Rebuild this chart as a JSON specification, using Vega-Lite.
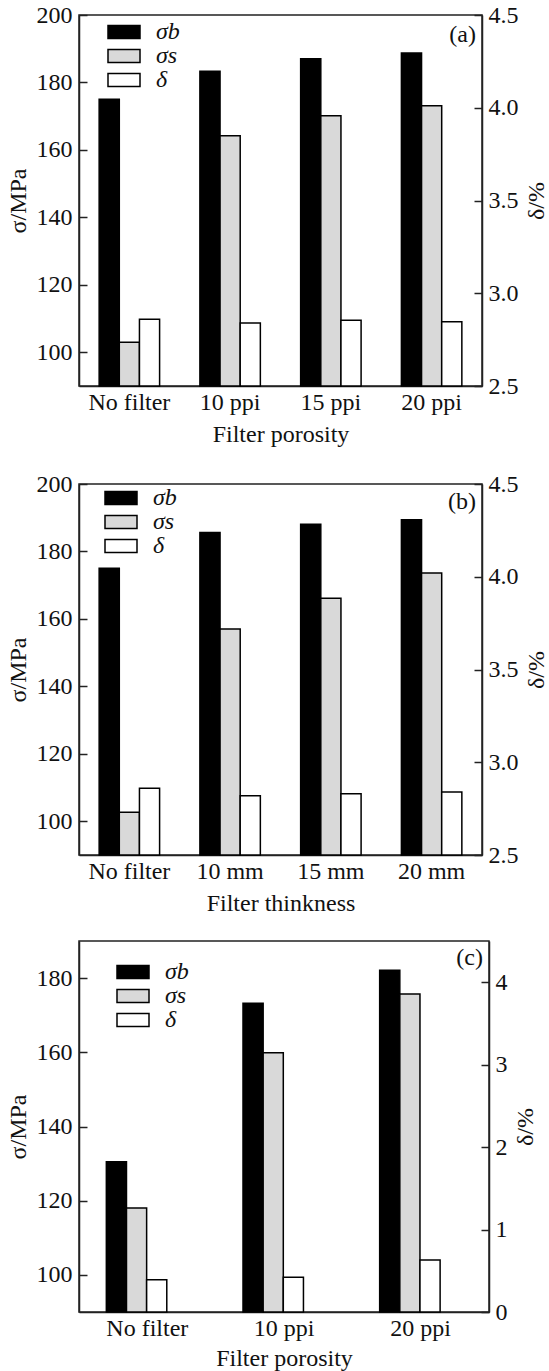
{
  "$schema": "https://vega.github.io/schema/vega-lite/v6.json",
  "background": "white",
  "padding": {"left": 5, "top": 2, "right": 3, "bottom": 1},
  "spacing": 24,
  "resolve": {"scale": {"fill": "independent"}, "legend": {"fill": "independent"}},
  "datasets": {
    "rows": [
      {"panel": "a", "cat": "No filter", "series": "σb", "value": 175},
      {"panel": "a", "cat": "No filter", "series": "σs", "value": 103},
      {"panel": "a", "cat": "No filter", "series": "δ", "value": 2.86},
      {"panel": "a", "cat": "10 ppi", "series": "σb", "value": 183.3},
      {"panel": "a", "cat": "10 ppi", "series": "σs", "value": 164.2},
      {"panel": "a", "cat": "10 ppi", "series": "δ", "value": 2.84},
      {"panel": "a", "cat": "15 ppi", "series": "σb", "value": 187},
      {"panel": "a", "cat": "15 ppi", "series": "σs", "value": 170.1},
      {"panel": "a", "cat": "15 ppi", "series": "δ", "value": 2.855},
      {"panel": "a", "cat": "20 ppi", "series": "σb", "value": 188.7},
      {"panel": "a", "cat": "20 ppi", "series": "σs", "value": 173.1},
      {"panel": "a", "cat": "20 ppi", "series": "δ", "value": 2.847},
      {"panel": "b", "cat": "No filter", "series": "σb", "value": 175},
      {"panel": "b", "cat": "No filter", "series": "σs", "value": 102.7},
      {"panel": "b", "cat": "No filter", "series": "δ", "value": 2.86},
      {"panel": "b", "cat": "10 mm", "series": "σb", "value": 185.6},
      {"panel": "b", "cat": "10 mm", "series": "σs", "value": 157},
      {"panel": "b", "cat": "10 mm", "series": "δ", "value": 2.82},
      {"panel": "b", "cat": "15 mm", "series": "σb", "value": 188.1},
      {"panel": "b", "cat": "15 mm", "series": "σs", "value": 166.1},
      {"panel": "b", "cat": "15 mm", "series": "δ", "value": 2.83},
      {"panel": "b", "cat": "20 mm", "series": "σb", "value": 189.4},
      {"panel": "b", "cat": "20 mm", "series": "σs", "value": 173.6},
      {"panel": "b", "cat": "20 mm", "series": "δ", "value": 2.84},
      {"panel": "c", "cat": "No filter", "series": "σb", "value": 130.5},
      {"panel": "c", "cat": "No filter", "series": "σs", "value": 118},
      {"panel": "c", "cat": "No filter", "series": "δ", "value": 0.39},
      {"panel": "c", "cat": "10 ppi", "series": "σb", "value": 173.2},
      {"panel": "c", "cat": "10 ppi", "series": "σs", "value": 159.9},
      {"panel": "c", "cat": "10 ppi", "series": "δ", "value": 0.42},
      {"panel": "c", "cat": "20 ppi", "series": "σb", "value": 182.1},
      {"panel": "c", "cat": "20 ppi", "series": "σs", "value": 175.7},
      {"panel": "c", "cat": "20 ppi", "series": "δ", "value": 0.63}
    ]
  },
  "data": {"name": "rows"},
  "config": {
    "font": "Liberation Serif",
    "view": {"stroke": "#222", "strokeWidth": 1.5},
    "axis": {
      "labelFont": "Liberation Serif", "labelFontSize": 24, "labelColor": "#111",
      "titleFont": "Liberation Serif", "titleFontSize": 24, "titleFontWeight": "normal", "titleColor": "#111",
      "domainColor": "#222", "domainWidth": 1.5, "tickColor": "#222", "tickWidth": 1.5, "grid": false
    },
    "legend": {
      "labelFont": "Liberation Serif", "labelFontSize": 24, "labelFontStyle": "italic", "labelColor": "#111",
      "symbolType": "M-2,-0.8H2V0.8H-2Z", "symbolSize": 256,
      "symbolStrokeColor": "#000", "symbolStrokeWidth": 1.5, "rowPadding": 0, "labelOffset": 20
    },
    "title": {"font": "Liberation Serif", "fontSize": 24, "fontWeight": "normal", "color": "#111"}
  },
  "vconcat": [
    {
      "width": 403, "height": 371,
      "title": {"text": "(a)", "anchor": "end", "frame": "group", "offset": -44, "dx": -6},
      "transform": [{"filter": "datum.panel == 'a'"}],
      "encoding": {
        "x": {"field": "cat", "type": "nominal", "sort": ["No filter", "10 ppi", "15 ppi", "20 ppi"],
              "scale": {"paddingInner": 0.4, "paddingOuter": 0.2},
              "title": "Filter porosity",
              "axis": {"labelAngle": 0, "ticks": false, "labelPadding": 4, "titlePadding": 8}},
        "xOffset": {"field": "series", "type": "nominal", "scale": {"domain": ["σb", "σs", "δ"]}},
        "fill": {"field": "series", "type": "nominal",
                 "scale": {"domain": ["σb", "σs", "δ"], "range": ["#000000", "#d9d9d9", "#ffffff"]},
                 "legend": {"title": null, "orient": "none", "legendX": 33, "legendY": 5}}
      },
      "layer": [
        {
          "transform": [{"filter": "datum.series != 'δ'"}],
          "mark": {"type": "bar", "stroke": "#000", "strokeWidth": 1.5},
          "encoding": {
            "y": {"field": "value", "type": "quantitative", "title": "σ/MPa",
                  "scale": {"domain": [90, 200], "zero": false, "nice": false},
                  "axis": {"orient": "left", "values": [100, 120, 140, 160, 180, 200], "tickSize": -8, "labelPadding": 15, "titlePadding": 6}},
            "y2": {"datum": 90}
          }
        },
        {
          "transform": [{"filter": "datum.series == 'δ'"}],
          "mark": {"type": "bar", "stroke": "#000", "strokeWidth": 1.5},
          "encoding": {
            "y": {"field": "value", "type": "quantitative", "title": "δ/%",
                  "scale": {"domain": [2.5, 4.5], "zero": false, "nice": false},
                  "axis": {"orient": "right", "values": [2.5, 3, 3.5, 4, 4.5], "format": ".1f", "tickSize": -8, "labelPadding": 14, "titlePadding": 6, "titleAngle": -90, "titleBaseline": "top"}},
            "y2": {"datum": 2.5}
          }
        }
      ],
      "resolve": {"scale": {"y": "independent"}}
    },
    {
      "width": 403, "height": 371,
      "title": {"text": "(b)", "anchor": "end", "frame": "group", "offset": -42, "dx": -6},
      "transform": [{"filter": "datum.panel == 'b'"}],
      "encoding": {
        "x": {"field": "cat", "type": "nominal", "sort": ["No filter", "10 mm", "15 mm", "20 mm"],
              "scale": {"paddingInner": 0.4, "paddingOuter": 0.2},
              "title": "Filter thinkness",
              "axis": {"labelAngle": 0, "ticks": false, "labelPadding": 4, "titlePadding": 8}},
        "xOffset": {"field": "series", "type": "nominal", "scale": {"domain": ["σb", "σs", "δ"]}},
        "fill": {"field": "series", "type": "nominal",
                 "scale": {"domain": ["σb", "σs", "δ"], "range": ["#000000", "#d9d9d9", "#ffffff"]},
                 "legend": {"title": null, "orient": "none", "legendX": 30, "legendY": 2}}
      },
      "layer": [
        {
          "transform": [{"filter": "datum.series != 'δ'"}],
          "mark": {"type": "bar", "stroke": "#000", "strokeWidth": 1.5},
          "encoding": {
            "y": {"field": "value", "type": "quantitative", "title": "σ/MPa",
                  "scale": {"domain": [90, 200], "zero": false, "nice": false},
                  "axis": {"orient": "left", "values": [100, 120, 140, 160, 180, 200], "tickSize": -8, "labelPadding": 15, "titlePadding": 6}},
            "y2": {"datum": 90}
          }
        },
        {
          "transform": [{"filter": "datum.series == 'δ'"}],
          "mark": {"type": "bar", "stroke": "#000", "strokeWidth": 1.5},
          "encoding": {
            "y": {"field": "value", "type": "quantitative", "title": "δ/%",
                  "scale": {"domain": [2.5, 4.5], "zero": false, "nice": false},
                  "axis": {"orient": "right", "values": [2.5, 3, 3.5, 4, 4.5], "format": ".1f", "tickSize": -8, "labelPadding": 14, "titlePadding": 6, "titleAngle": -90, "titleBaseline": "top"}},
            "y2": {"datum": 2.5}
          }
        }
      ],
      "resolve": {"scale": {"y": "independent"}}
    },
    {
      "width": 410, "height": 371,
      "title": {"text": "(c)", "anchor": "end", "frame": "group", "offset": -29, "dx": -6},
      "transform": [{"filter": "datum.panel == 'c'"}],
      "encoding": {
        "x": {"field": "cat", "type": "nominal", "sort": ["No filter", "10 ppi", "20 ppi"],
              "scale": {"paddingInner": 0.4, "paddingOuter": 0.2},
              "title": "Filter porosity",
              "axis": {"labelAngle": 0, "ticks": false, "labelPadding": 4, "titlePadding": 6}},
        "xOffset": {"field": "series", "type": "nominal", "scale": {"domain": ["σb", "σs", "δ"]}},
        "fill": {"field": "series", "type": "nominal",
                 "scale": {"domain": ["σb", "σs", "δ"], "range": ["#000000", "#d9d9d9", "#ffffff"]},
                 "legend": {"title": null, "orient": "none", "legendX": 42, "legendY": 19}}
      },
      "layer": [
        {
          "transform": [{"filter": "datum.series != 'δ'"}],
          "mark": {"type": "bar", "stroke": "#000", "strokeWidth": 1.5},
          "encoding": {
            "y": {"field": "value", "type": "quantitative", "title": "σ/MPa",
                  "scale": {"domain": [90, 190], "zero": false, "nice": false},
                  "axis": {"orient": "left", "values": [100, 120, 140, 160, 180], "tickSize": -8, "labelPadding": 15, "titlePadding": 6}},
            "y2": {"datum": 90}
          }
        },
        {
          "transform": [{"filter": "datum.series == 'δ'"}],
          "mark": {"type": "bar", "stroke": "#000", "strokeWidth": 1.5},
          "encoding": {
            "y": {"field": "value", "type": "quantitative", "title": "δ/%",
                  "scale": {"domain": [0, 4.5], "zero": false, "nice": false},
                  "axis": {"orient": "right", "values": [0, 1, 2, 3, 4], "format": "d", "tickSize": -8, "labelPadding": 14, "titlePadding": 6, "titleAngle": -90, "titleBaseline": "top"}},
            "y2": {"datum": 0}
          }
        }
      ],
      "resolve": {"scale": {"y": "independent"}}
    }
  ]
}
